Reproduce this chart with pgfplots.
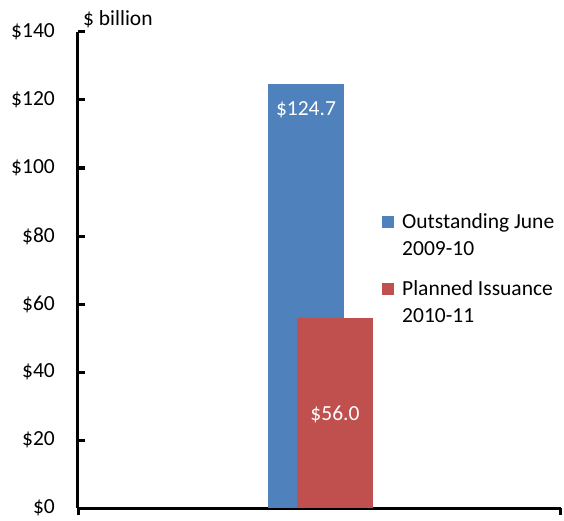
\documentclass[border=0pt]{standalone}
\usepackage{pgfplots}
\pgfplotsset{compat=1.18}
\usepackage{fontspec}
\setmainfont{Carlito}
\definecolor{barblue}{HTML}{4F81BD}
\definecolor{barred}{HTML}{C0504D}
\begin{document}
\fontsize{21.5}{27}\selectfont
\begin{tikzpicture}[x=1pt,y=1pt,font=\fontsize{21.5}{27}\selectfont]
\useasboundingbox (0,0) rectangle (564,520);
\begin{axis}[
    at={(78pt,12pt)}, anchor=south west,
    scale only axis, width=483pt, height=476pt,
    clip=false,
    xmin=-241.5, xmax=241.5, ymin=0, ymax=140,
    ytick={0,20,...,140},
    xtick={-241.4,241.4}, xticklabels={},
    axis x line*=bottom, axis y line*=left,
    tick align=inside, major tick length=7pt,
    axis line style={line width=3pt, black},
    tick style={line width=3pt, black},
    /pgf/number format/assume math mode=true,
    yticklabel={\$\pgfmathprintnumber{\tick}},
    yticklabel style={font=\fontsize{21.5}{27}\selectfont, inner sep=0pt, xshift=-23pt},
    ybar, bar width=76,
    legend style={at={(axis cs:62.5,87.8)}, anchor=north west, draw=none, fill=none,
        inner sep=0pt, column sep=8pt, row sep=45pt,
        font=\fontsize{21.5}{27}\selectfont,
        nodes={inner sep=0pt, anchor=base west}},
    legend cell align=left,
    legend image code/.code={\path[#1] (0pt,1pt) rectangle (12pt,13pt);},
]
\addplot[fill=barblue, draw=none, bar shift=0pt] coordinates {(-13.5,124.7)};
\addlegendentry{\begin{tabular}[t]{@{}l@{}}Outstanding June\\2009-10\end{tabular}}
\addplot[fill=barred, draw=none, bar shift=0pt] coordinates {(15.5,56.0)};
\addlegendentry{\begin{tabular}[t]{@{}l@{}}Planned Issuance\\2010-11\end{tabular}}
\node[white] at (axis cs:-13.5,117) {\$124.7};
\node[white] at (axis cs:15.5,27.4) {\$56.0};
\node[anchor=west, inner sep=0pt] at ([xshift=5pt,yshift=13pt]rel axis cs:0,1) {\$ billion};
\end{axis}
\end{tikzpicture}
\end{document}
